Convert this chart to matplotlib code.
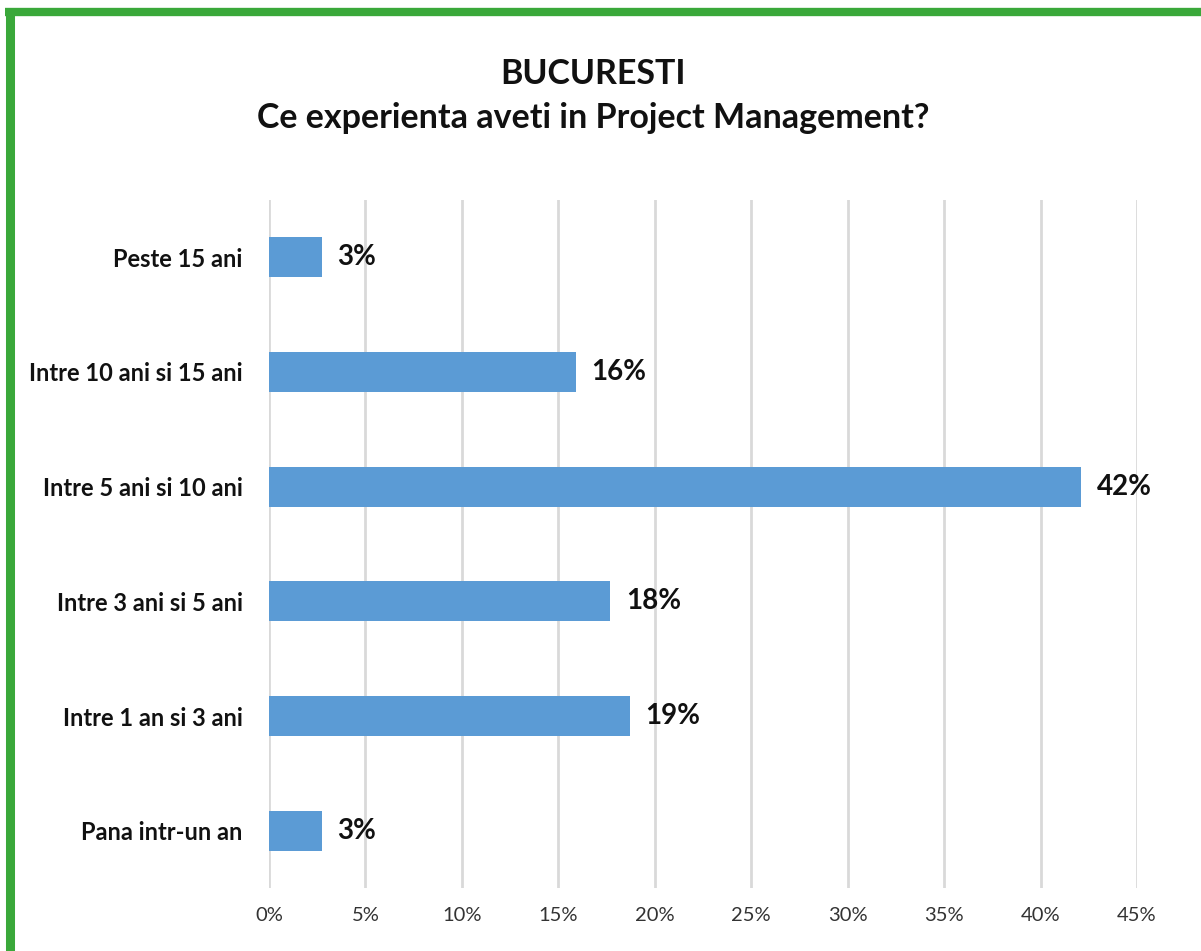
import matplotlib.pyplot as plt
from matplotlib.lines import Line2D
from matplotlib.ticker import FuncFormatter

plt.rcParams["font.family"] = ["Lato", "DejaVu Sans"]

# categories from bottom to top, as drawn by barh
categories = [
    "Pana intr-un an",
    "Intre 1 an si 3 ani",
    "Intre 3 ani si 5 ani",
    "Intre 5 ani si 10 ani",
    "Intre 10 ani si 15 ani",
    "Peste 15 ani",
]
shares = [2.75, 18.7, 17.7, 42.1, 15.9, 2.75]
value_labels = ["3%", "19%", "18%", "42%", "16%", "3%"]
x_ticks = [0, 5, 10, 15, 20, 25, 30, 35, 40, 45]

W, H = 1201, 951
fig = plt.figure(figsize=(W / 100, H / 100), dpi=100)
ax = fig.add_axes([269 / W, 1 - 888 / H, (1137 - 269) / W, (888 - 200) / H])

ypos = range(len(categories))
ax.barh(ypos, shares, height=0.35, color="#5b9bd5", zorder=3)
for y, v, lab in zip(ypos, shares, value_labels):
    ax.text(v + 0.8, y, lab, va="center", ha="left", fontsize=20,
            fontweight="bold", color="#111111")

ax.set_xlim(0, 45)
ax.set_ylim(-0.5, len(categories) - 0.5)
ax.set_xticks(x_ticks)
ax.xaxis.set_major_formatter(FuncFormatter(lambda v, _: f"{v:.0f}%"))
ax.set_yticks(list(ypos))
ax.set_yticklabels(categories, fontweight="bold", fontsize=17, color="#111111")
ax.tick_params(axis="x", length=0, pad=14, labelsize=14.5, labelcolor="#333333")
ax.tick_params(axis="y", length=0, pad=19)
ax.grid(axis="x", color="#d9d9d9", linewidth=2, zorder=0)
for s in ax.spines.values():
    s.set_visible(False)

fig.text(593 / W, 1 - 74 / H, "BUCURESTI", ha="center", va="center",
         fontsize=24.5, fontweight="bold", color="#111111")
fig.text(593 / W, 1 - 118 / H, "Ce experienta aveti in Project Management?",
         ha="center", va="center", fontsize=24.5, fontweight="bold", color="#111111")

# green frame, visible on the left and top edges only
fig.add_artist(Line2D([9.5 / W, 9.5 / W], [0, 1 - 8 / H], transform=fig.transFigure,
                      color="#3aa83a", linewidth=6.5, solid_capstyle="butt"))
fig.add_artist(Line2D([5 / W, 1], [1 - 12 / H, 1 - 12 / H], transform=fig.transFigure,
                      color="#3aa83a", linewidth=6, solid_capstyle="butt"))

fig.savefig("out.png", dpi=100)
